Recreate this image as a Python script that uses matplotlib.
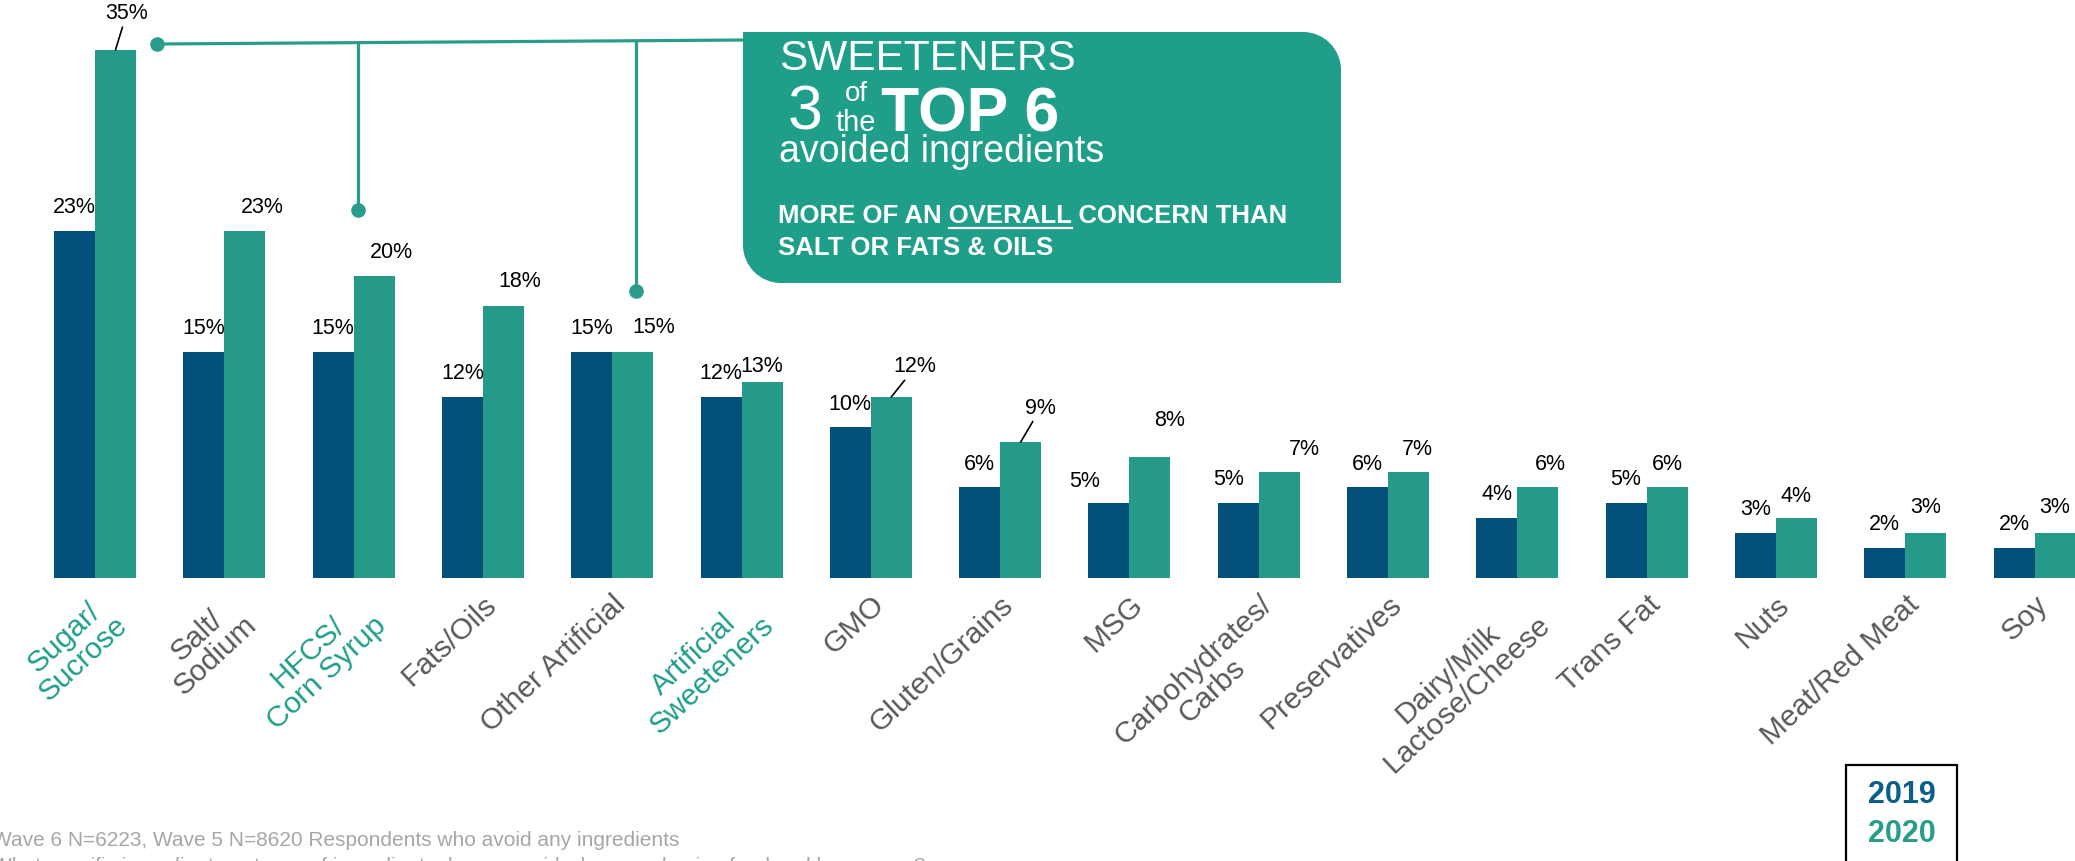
import matplotlib
matplotlib.use("Agg")
import matplotlib.pyplot as plt
import numpy as np
from matplotlib.patches import Rectangle, PathPatch
from matplotlib.path import Path
import matplotlib.transforms as mtransforms

plt.rcParams['font.family'] = ['Liberation Sans', 'DejaVu Sans']

# ---------------- data ----------------
categories = ["Sugar/\nSucrose", "Salt/\nSodium", "HFCS/\nCorn Syrup", "Fats/Oils",
              "Other Artificial", "Artificial\nSweeteners", "GMO", "Gluten/Grains",
              "MSG", "Carbohydrates/\nCarbs", "Preservatives", "Dairy/Milk\nLactose/Cheese",
              "Trans Fat", "Nuts", "Meat/Red Meat", "Soy"]
values_2019 = [23, 15, 15, 12, 15, 12, 10, 6, 5, 5, 6, 4, 5, 3, 2, 2]
values_2020 = [35, 23, 20, 18, 15, 13, 12, 9, 8, 7, 7, 6, 6, 4, 3, 3]
highlighted = ["Sugar/\nSucrose", "HFCS/\nCorn Syrup", "Artificial\nSweeteners"]
series_names = ["2019", "2020"]

# ---------------- style ----------------
W, H = 2075, 861
DARK = '#03517A'
TEAL = '#269A88'
BOX_TEAL = '#1F9E8A'
LABEL_GRAY = '#595959'
LEG_DARK = '#0B5E8A'
LEG_TEAL = '#2A9D8A'

fig = plt.figure(figsize=(W / 100, H / 100), dpi=100)
base_px = 578.0
px_per_unit = 15.09
group_px = 129.3
first_px = 95.0
ax = fig.add_axes([0, (H - base_px) / H, 1, base_px / H])
ax.set_ylim(0, base_px / px_per_unit)
ax.set_xlim(-first_px / group_px, (W - first_px) / group_px)
for s in ax.spines.values():
    s.set_visible(False)
ax.yaxis.set_visible(False)

x = np.arange(len(categories))
bw = 41 / group_px
ax.bar(x - bw / 2, values_2019, bw, color=DARK, linewidth=0)
ax.bar(x + bw / 2, values_2020, bw, color=TEAL, linewidth=0)

# category labels
ax.set_xticks(x)
ax.set_xticklabels(categories, rotation=43, ha='right', va='top',
                   rotation_mode='anchor', fontsize=21.5)
ax.tick_params(axis='x', length=0, pad=9)
for lbl, cat in zip(ax.get_xticklabels(), categories):
    lbl.set_multialignment('center')
    lbl.set_linespacing(1.0)
    lbl.set_color(BOX_TEAL if cat in highlighted else LABEL_GRAY)

# value labels (offsets in pixels: layout only)
dark_off = {8: (-24, 21), 9: (-10, 23)}
teal_off = [(11, 36), (18, 23), (17, 24), (16, 25), (21, 24), (0, 15), (24, 30), (20, 34),
            (20, 37), (25, 23), (9, 23), (13, 23), (0, 23), (0, 21), (0, 25), (0, 25)]
leaders = {0, 6, 7}
VFS = 15.5
for i, v in enumerate(values_2019):
    dx, dy = dark_off.get(i, (0, 23))
    ax.annotate(f"{v}%", xy=(x[i] - bw / 2, v), xytext=(dx, dy), textcoords='offset pixels',
                ha='center', va='center', fontsize=VFS, color='black')
for i, v in enumerate(values_2020):
    dx, dy = teal_off[i]
    kw = {}
    if i in leaders:
        kw['arrowprops'] = dict(arrowstyle='-', color='black', lw=1.2, shrinkA=0, shrinkB=0)
    ax.annotate(f"{v}%", xy=(x[i] + bw / 2, v), xytext=(dx, dy), textcoords='offset pixels',
                ha='center', va='center', fontsize=VFS, color='black', **kw)

# ---------------- callout ----------------
pxT = mtransforms.Affine2D().scale(1 / W, 1 / H) + fig.transFigure


def P(xp, yp):
    return (xp, H - yp)


def dx_(p):
    return (p - first_px) / group_px


def dy_(p):
    return (base_px - p) / px_per_unit


line_kw = dict(color=LEG_TEAL, lw=2.3, solid_capstyle='butt', zorder=3)
ax.plot([dx_(157), dx_(743)], [dy_(44), dy_(40)], **line_kw)
ax.plot([dx_(358), dx_(358)], [dy_(42.8), dy_(210)], **line_kw)
ax.plot([dx_(636), dx_(636)], [dy_(41.3), dy_(291)], **line_kw)
ax.plot([dx_(157), dx_(358), dx_(636)], [dy_(44), dy_(210), dy_(291)], 'o',
        color=LEG_TEAL, ms=9.5, zorder=4)

# rounded box (top-right and bottom-left rounded)
L, T, R, B = 743, 32, 1341, 283
r = 38
k = 0.5523 * r
verts = [P(L, T), P(R - r, T), P(R - r + k, T), P(R, T + r - k), P(R, T + r),
         P(R, B), P(L + r, B), P(L + r - k, B), P(L, B - r + k), P(L, B - r), P(L, T), P(L, T)]
codes = [Path.MOVETO, Path.LINETO, Path.CURVE4, Path.CURVE4, Path.CURVE4,
         Path.LINETO, Path.LINETO, Path.CURVE4, Path.CURVE4, Path.CURVE4, Path.LINETO, Path.CLOSEPOLY]
fig.patches.append(PathPatch(Path(verts, codes), facecolor=BOX_TEAL, edgecolor='none',
                             transform=pxT, zorder=5))


def ftext(xp, yp, s, **kw):
    return fig.text(xp / W, 1 - yp / H, s, zorder=6, **kw)


ftext(779, 70, "SWEETENERS", fontsize=30.5, color='white', va='baseline')
ftext(788, 130, "3", fontsize=45, color='white', va='baseline')
ftext(845, 101, "of", fontsize=20, color='white', va='baseline')
ftext(835, 131, "the", fontsize=21, color='white', va='baseline')
ftext(881, 132, "TOP 6", fontsize=45, color='white', fontweight='bold', va='baseline')
ftext(779, 162, "avoided ingredients", fontsize=27, color='white', va='baseline')
ftext(778, 223, "MORE OF AN OVERALL CONCERN THAN", fontsize=18.5, color='white',
      fontweight='bold', va='baseline')
ftext(778, 255, "SALT OR FATS & OILS", fontsize=18.5, color='white',
      fontweight='bold', va='baseline')

# underline under OVERALL
renderer = fig.canvas.get_renderer()
tmp_a = ftext(0, 0, "MORE OF AN OVERALL", fontsize=18.5, fontweight='bold')
tmp_b = ftext(0, 0, "OVERALL", fontsize=18.5, fontweight='bold')
wa = tmp_a.get_window_extent(renderer).width
wb = tmp_b.get_window_extent(renderer).width
tmp_a.remove()
tmp_b.remove()
u0 = 778 + wa - wb
u1 = 778 + wa
fig.lines.append(plt.Line2D([u0, u1], [H - 227.5, H - 227.5], color='white', lw=1.6,
                            transform=pxT, zorder=6))

# ---------------- legend box ----------------
fig.patches.append(Rectangle(P(1846, 900), 111, 900 - 765, facecolor='white', edgecolor='black',
                             lw=1.6, transform=pxT, zorder=5))
ftext(1902, 795, series_names[0], fontsize=22, fontweight='bold', color=LEG_DARK,
      ha='center', va='center')
ftext(1902, 834, series_names[1], fontsize=22, fontweight='bold', color=LEG_TEAL,
      ha='center', va='center')

# ---------------- footnote ----------------
ftext(-8, 841, "Wave 6 N=6223, Wave 5 N=8620 Respondents who avoid any ingredients",
      fontsize=15, color='#A6A6A6', va='center')
ftext(-8, 867, "What specific ingredients or types of ingredients do you avoid when purchasing food and beverages?",
      fontsize=15, color='#A6A6A6', va='center')

fig.savefig("out.png", dpi=100)
